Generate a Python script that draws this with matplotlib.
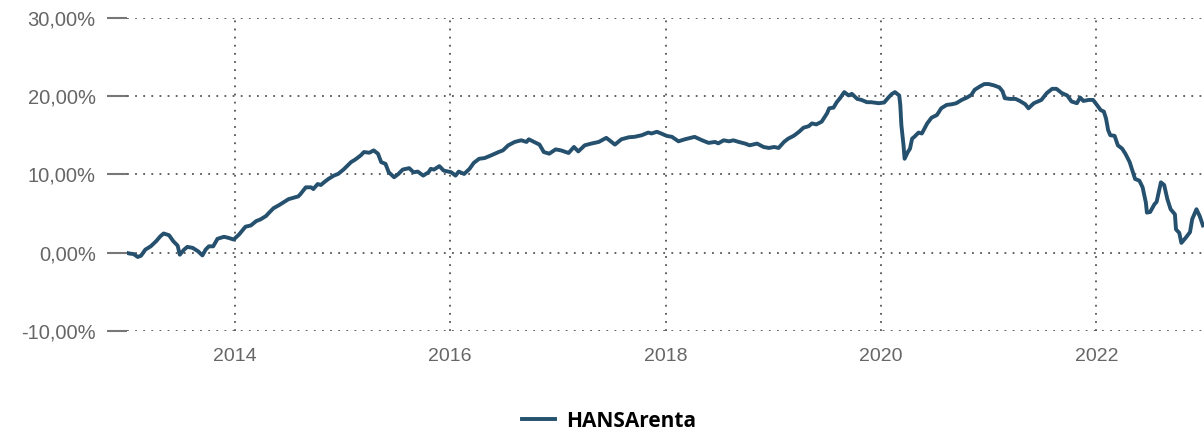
#!/usr/bin/env python3
"""Performance line chart for HANSArenta, 2013-2022."""

import matplotlib

matplotlib.use("Agg")
import matplotlib.pyplot as plt

# decimal year / cumulative performance in percent
years = [
    2012.99, 2013.03, 2013.06, 2013.10, 2013.13, 2013.17, 2013.22, 2013.27, 2013.31, 2013.34,
    2013.39, 2013.43, 2013.47, 2013.49, 2013.53, 2013.56, 2013.61, 2013.66, 2013.70, 2013.73,
    2013.76, 2013.80, 2013.84, 2013.90, 2013.94, 2013.99, 2014.04, 2014.10, 2014.15, 2014.20,
    2014.24, 2014.29, 2014.32, 2014.36, 2014.41, 2014.46, 2014.50, 2014.59, 2014.61, 2014.66,
    2014.71, 2014.73, 2014.77, 2014.80, 2014.83, 2014.87, 2014.92, 2014.96, 2015.01, 2015.08,
    2015.12, 2015.17, 2015.20, 2015.25, 2015.29, 2015.33, 2015.36, 2015.40, 2015.43, 2015.48,
    2015.52, 2015.56, 2015.62, 2015.66, 2015.70, 2015.75, 2015.80, 2015.82, 2015.85, 2015.90,
    2015.94, 2016.01, 2016.05, 2016.08, 2016.13, 2016.18, 2016.22, 2016.27, 2016.32, 2016.38,
    2016.45, 2016.49, 2016.54, 2016.60, 2016.66, 2016.71, 2016.73, 2016.78, 2016.83, 2016.87,
    2016.92, 2016.98, 2017.03, 2017.10, 2017.15, 2017.19, 2017.25, 2017.31, 2017.38, 2017.45,
    2017.48, 2017.53, 2017.59, 2017.66, 2017.71, 2017.78, 2017.84, 2017.87, 2017.92, 2017.96,
    2018.01, 2018.06, 2018.12, 2018.18, 2018.27, 2018.34, 2018.40, 2018.46, 2018.49, 2018.54,
    2018.59, 2018.63, 2018.68, 2018.74, 2018.78, 2018.85, 2018.91, 2018.96, 2019.01, 2019.05,
    2019.10, 2019.14, 2019.19, 2019.24, 2019.28, 2019.33, 2019.36, 2019.40, 2019.45, 2019.50,
    2019.52, 2019.56, 2019.59, 2019.62, 2019.66, 2019.70, 2019.73, 2019.78, 2019.82, 2019.87,
    2019.91, 2019.98, 2020.03, 2020.07, 2020.10, 2020.13, 2020.17, 2020.18, 2020.19, 2020.21,
    2020.22, 2020.25, 2020.27, 2020.29, 2020.31, 2020.35, 2020.38, 2020.43, 2020.47, 2020.52,
    2020.56, 2020.61, 2020.66, 2020.70, 2020.75, 2020.80, 2020.84, 2020.87, 2020.92, 2020.96,
    2021.00, 2021.05, 2021.10, 2021.13, 2021.15, 2021.20, 2021.25, 2021.29, 2021.34, 2021.37,
    2021.42, 2021.47, 2021.49, 2021.54, 2021.59, 2021.63, 2021.68, 2021.73, 2021.77, 2021.82,
    2021.85, 2021.88, 2021.93, 2021.97, 2022.01, 2022.04, 2022.07, 2022.09, 2022.11, 2022.13,
    2022.17, 2022.20, 2022.24, 2022.27, 2022.31, 2022.33, 2022.36, 2022.40, 2022.43, 2022.46,
    2022.47, 2022.50, 2022.54, 2022.56, 2022.59, 2022.60, 2022.63, 2022.66, 2022.69, 2022.73,
    2022.74, 2022.77, 2022.79, 2022.83, 2022.87, 2022.89, 2022.93, 2022.96, 2022.99,
]
performance = [
    0.00, -0.13, -0.17, -0.55, -0.39, 0.39, 0.81, 1.46, 2.10, 2.45,
    2.23, 1.46, 0.90, -0.26, 0.39, 0.74, 0.61, 0.17, -0.35, 0.39,
    0.81, 0.81, 1.77, 2.03, 1.90, 1.68, 2.32, 3.32, 3.48, 4.04,
    4.26, 4.68, 5.12, 5.68, 6.06, 6.49, 6.84, 7.19, 7.48, 8.35,
    8.35, 8.13, 8.77, 8.65, 9.00, 9.42, 9.85, 10.06, 10.62, 11.57,
    11.91, 12.43, 12.86, 12.77, 13.07, 12.65, 11.57, 11.35, 10.28, 9.64,
    10.06, 10.62, 10.80, 10.28, 10.36, 9.85, 10.28, 10.71, 10.62, 11.06,
    10.49, 10.28, 9.85, 10.36, 10.06, 10.71, 11.48, 12.00, 12.09, 12.43,
    12.86, 13.07, 13.72, 14.15, 14.36, 14.15, 14.49, 14.15, 13.81, 12.86,
    12.65, 13.20, 13.07, 12.74, 13.51, 12.94, 13.72, 13.94, 14.15, 14.67,
    14.36, 13.81, 14.49, 14.75, 14.80, 15.01, 15.35, 15.23, 15.45, 15.23,
    14.93, 14.80, 14.23, 14.49, 14.80, 14.36, 14.03, 14.15, 13.97, 14.36,
    14.23, 14.36, 14.15, 13.94, 13.72, 13.94, 13.51, 13.38, 13.51, 13.38,
    14.15, 14.58, 14.93, 15.45, 15.96, 16.17, 16.52, 16.39, 16.74, 17.81,
    18.45, 18.54, 19.23, 19.74, 20.52, 20.09, 20.30, 19.65, 19.52, 19.23,
    19.23, 19.10, 19.19, 19.83, 20.26, 20.52, 20.09, 18.88, 16.30, 13.72,
    12.00, 12.86, 13.29, 14.58, 14.80, 15.35, 15.23, 16.52, 17.25, 17.59,
    18.45, 18.88, 18.97, 19.10, 19.52, 19.83, 20.17, 20.81, 21.25, 21.55,
    21.55, 21.38, 21.12, 20.61, 19.74, 19.65, 19.65, 19.39, 18.97, 18.45,
    19.10, 19.39, 19.52, 20.39, 20.94, 20.94, 20.39, 20.09, 19.32, 19.10,
    19.83, 19.39, 19.52, 19.52, 18.80, 18.23, 18.03, 17.16, 15.65, 15.01,
    14.93, 13.72, 13.29, 12.65, 11.57, 10.71, 9.42, 9.20, 8.35, 6.41,
    5.12, 5.20, 6.19, 6.49, 8.35, 8.99, 8.65, 6.84, 5.55, 4.90,
    2.97, 2.54, 1.25, 1.90, 2.62, 4.26, 5.55, 4.68, 3.48,
]

y_ticks = [-10, 0, 10, 20, 30]
y_labels = ["-10,00%", "0,00%", "10,00%", "20,00%", "30,00%"]
x_ticks = [2014, 2016, 2018, 2020, 2022]
series_name = "HANSArenta"

LINE = "#25506e"
GRID = "#555555"
TEXT = "#666666"

fig = plt.figure(figsize=(12.04, 4.32), dpi=100)
ax = fig.add_axes([0.1055, 0.234, 0.8945, 0.7245])

ax.plot(years, performance, color=LINE, linewidth=2.8, solid_joinstyle="round", label=series_name)

ax.set_xlim(2013.0, 2023.0)
ax.set_ylim(-10, 30)
ax.set_yticks(y_ticks)
ax.set_yticklabels(y_labels)
ax.set_xticks(x_ticks)
ax.set_xticklabels([str(y) for y in x_ticks])

for side in ax.spines.values():
    side.set_visible(False)

ax.grid(True, color=GRID, linestyle=(0, (1, 3.5)), linewidth=1.3)
ax.tick_params(axis="y", length=14.5, width=1.5, color="#777777", pad=8,
               labelsize=14.5, labelcolor=TEXT)
ax.tick_params(axis="x", length=0, pad=12, labelsize=14, labelcolor=TEXT)
for lab in ax.get_xticklabels() + ax.get_yticklabels():
    lab.set_family("Liberation Sans")

fig.legend(loc="center", bbox_to_anchor=(0.506, 0.025), frameon=False,
           handlelength=1.6, handletextpad=0.55,
           prop={"family": "Open Sans", "weight": "bold", "size": 15})

fig.savefig("out.png", dpi=100)
